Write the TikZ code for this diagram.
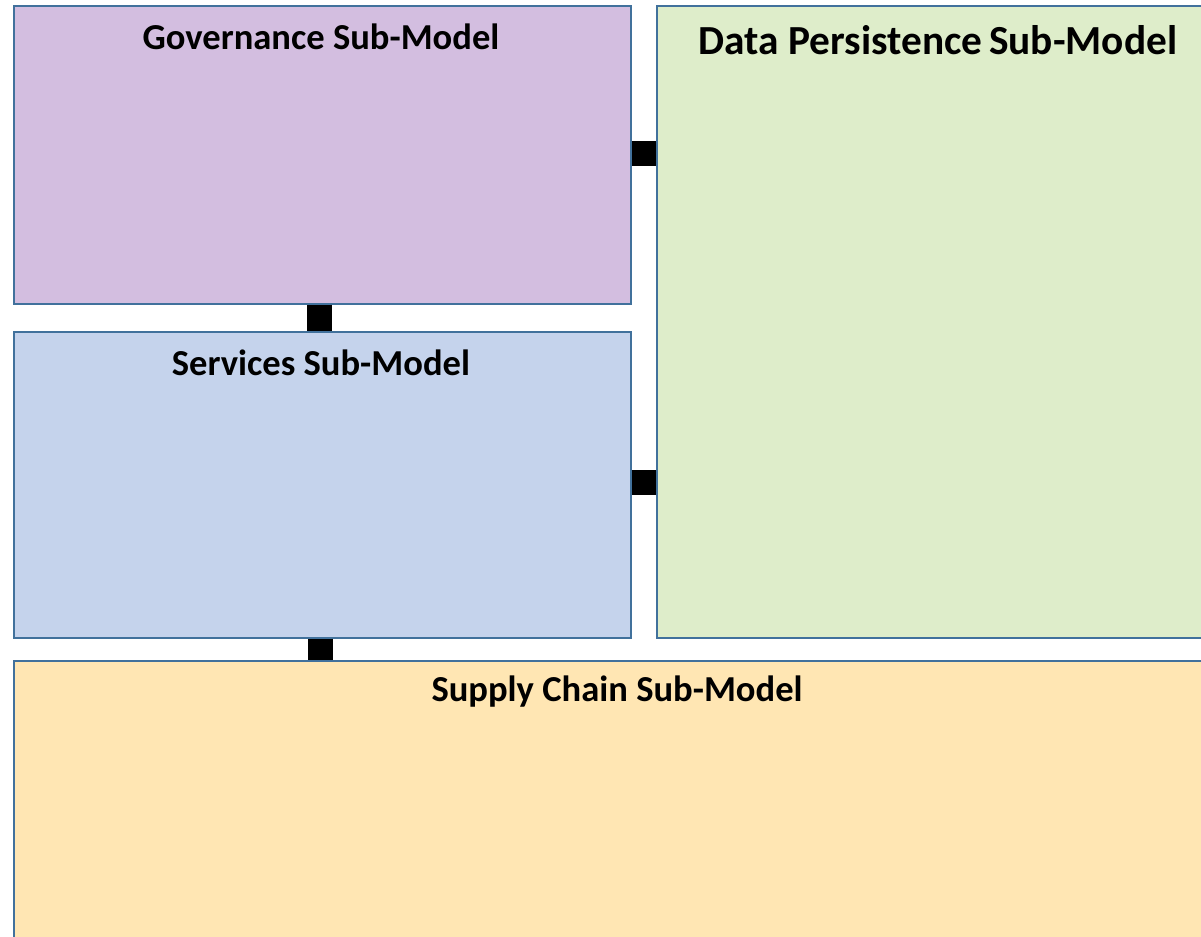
\documentclass[tikz,border=0pt]{standalone}
\usepackage{fontspec}
\setmainfont{Carlito}
\definecolor{bord}{RGB}{65,113,156}
\definecolor{govfill}{RGB}{211,190,224}
\definecolor{servfill}{RGB}{197,211,236}
\definecolor{datafill}{RGB}{222,237,202}
\definecolor{supfill}{RGB}{255,230,179}
\tikzset{
  box/.style={draw=bord, line width=1.5bp, rectangle, inner sep=0pt, anchor=north west},
  title/.style={font=\fontsize{36.7}{40}\selectfont\bfseries, anchor=center, inner sep=0pt},
  bigtitle/.style={font=\fontsize{41.5}{45}\selectfont\bfseries, anchor=center, inner sep=0pt},
  conn/.style={line width=25bp, black}
}
\begin{document}
\begin{tikzpicture}[x=1bp,y=-1bp]
\useasboundingbox (0,0) rectangle (1201,937);
\node[box, fill=govfill, minimum width=617bp, minimum height=298bp] (gov) at (13,5) {};
\node[box, fill=datafill, minimum width=560bp, minimum height=632bp] (data) at (656,5) {};
\node[box, fill=servfill, minimum width=617bp, minimum height=306bp] (serv) at (13,331) {};
\node[box, fill=supfill, minimum width=1210bp, minimum height=300bp] (sup) at (13,660) {};
\node[title] (govt) at (321,37) {Governance Sub-Model};
\node[bigtitle] (datat) at (938,40) {Data Persistence\,Sub-Model};
\node[title] (servt) at (321,363) {Services Sub-Model};
\node[title] (supt) at (617,692) {Supply Chain Sub-Model};
\draw[conn] ([yshift=1.5bp]gov.east) -- ([yshift=1.5bp]gov.east -| data.west);
\draw[conn] ([yshift=2bp]serv.east) -- ([yshift=2bp]serv.east -| data.west);
\draw[conn] ([xshift=-3bp]gov.south) -- ([xshift=-3bp]gov.south |- serv.north);
\draw[conn] ([xshift=-2bp]serv.south) -- ([xshift=-2bp]serv.south |- sup.north);
\end{tikzpicture}
\end{document}
